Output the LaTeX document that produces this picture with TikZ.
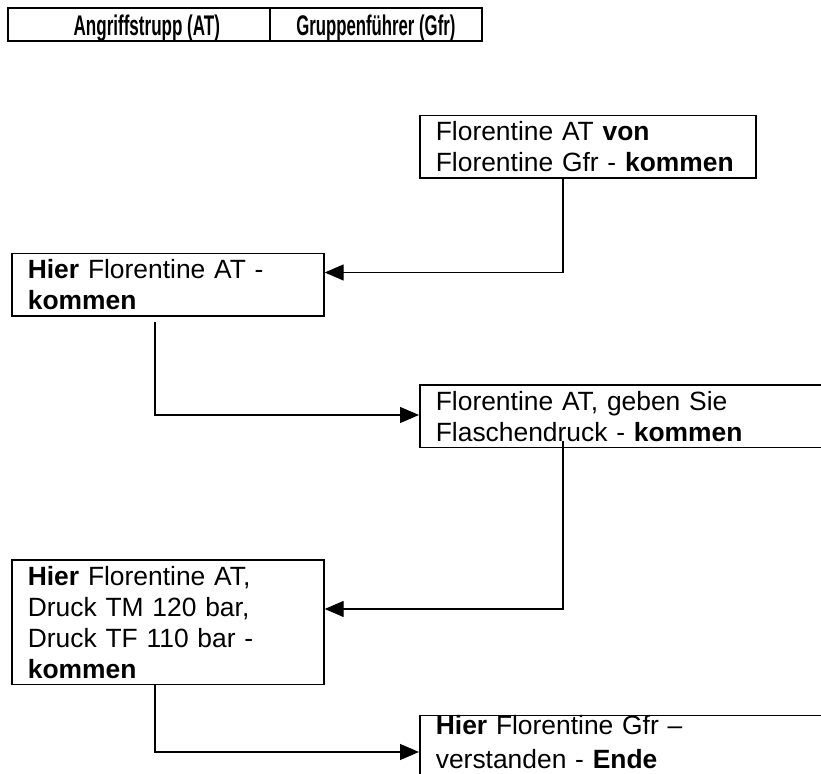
\documentclass[tikz,border=0pt]{standalone}
\usepackage{fontspec}
\setmainfont{Liberation Sans}
\usepackage{graphicx}
\usepackage{tikz}
\usetikzlibrary{arrows.meta,positioning}

\begin{document}
\begin{tikzpicture}[x=0.5pt,y=-0.5pt]
		\tikzstyle{cell}=[draw=black, line width=0.85pt, anchor=north west, inner sep=0pt, minimum height=16.5pt, text height=13.65pt, text depth=2.85pt, font=\bfseries\fontsize{14.2pt}{16pt}\selectfont]
		\tikzstyle{msg}=[draw=black, line width=0.85pt, anchor=north west, align=left, inner xsep=8pt, inner ysep=3.15pt, text height=9.5pt, font=\fontsize{13.2pt}{15.5pt}\selectfont]
		\tikzstyle{flow}=[line width=0.65pt, -{Triangle[length=9.5pt,width=8pt]}]
		
		\useasboundingbox (0,0) rectangle (821,774);
		\clip (0,0) rectangle (821,774);
		
		% Header
		\node[cell, minimum width=131pt] at (7,7) (head_at) {\hspace*{8pt}\scalebox{0.6}[1]{Angriffstrupp (AT)}};
		\node[cell, minimum width=106pt] at (269,7) (head_gfr) {\scalebox{0.59}[1]{Gruppenführer (Gfr)}};
		
		% Messages
		\node[msg, text width=152pt, text depth=15.5pt] at (419,114.7) (msg_1) {Florentine AT \textbf{von}\\ Florentine Gfr - \textbf{kommen}};
		\node[msg, text width=140pt, text depth=15.5pt] at (11,252.7) (msg_2) {\textbf{Hier} Florentine AT -\\ \textbf{kommen}};
		\node[msg, text width=230pt, text depth=15.5pt] at (419,384) (msg_3) {Florentine AT, geben Sie\\ Flaschendruck - \textbf{kommen}};
		\node[msg, text width=140pt, text depth=46.5pt] at (11,559) (msg_4) {\textbf{Hier} Florentine AT,\\ Druck TM 120 bar,\\ Druck TF 110 bar -\\ \textbf{kommen}};
		\node[msg, text width=230pt, inner ysep=0.5pt, text height=9.15pt, text depth=40pt] at (419,714.7) (msg_5) {\textbf{Hier} Florentine Gfr --\\[1.5pt] verstanden - \textbf{Ende}};
		
		% Arrows
		\coordinate (k_1) at (563,272.5);
		\coordinate (k_2) at (155,415);
		\coordinate (k_3) at (563,609);
		\coordinate (k_4) at (155,752);
		\draw [flow] (msg_1.south -| k_1) -- (k_1) -- (k_1 -| msg_2.east);
		\draw [flow, shorten <=2.5pt] (msg_2.south -| k_2) -- (k_2) -- (k_2 -| msg_3.west);
		\draw [flow] ([yshift=3.5pt]msg_3.south -| k_3) -- (k_3) -- (k_3 -| msg_4.east);
		\draw [flow] (msg_4.south -| k_4) -- (k_4) -- (k_4 -| msg_5.west);
\end{tikzpicture}
\end{document}
